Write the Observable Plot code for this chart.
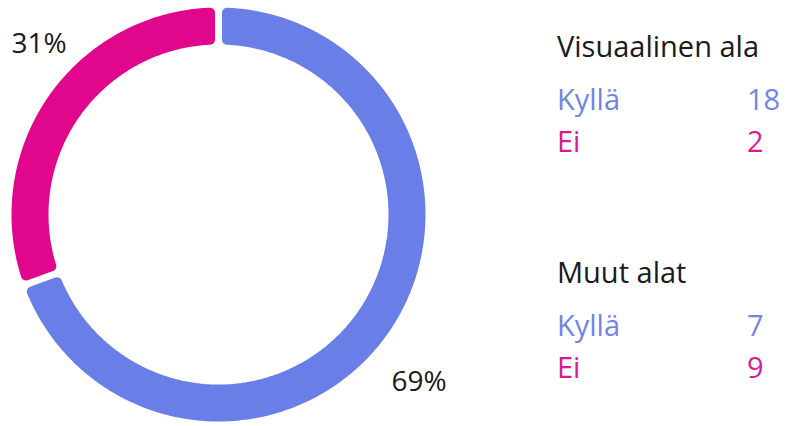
<!DOCTYPE html>
<html><head><meta charset="utf-8">
<script src="https://cdn.jsdelivr.net/npm/d3@7"></script>
<script src="https://cdn.jsdelivr.net/npm/@observablehq/plot@0.6"></script>
<style>
body{margin:0;background:#fff;font-family:"Open Sans",sans-serif;}
#wrap{position:relative;width:787px;height:426px;overflow:hidden}
#chart{position:absolute;left:0;top:0}
#legend{position:absolute;left:0;top:0;width:787px;height:426px}
.lg{position:absolute;font-size:29px;line-height:29px;white-space:nowrap;color:#1a1a1a}
</style></head><body>
<div id="wrap"><div id="chart"></div><div id="legend"></div></div>
<script>
// ---- data ----
const groups = ["Visuaalinen ala", "Muut alat"];
const answers = ["Kyllä", "Ei"];
const visualCounts = [18, 2];
const otherCounts = [7, 9];

// ---- style / layout ----
const colors = ["#6a7ee8", "#e0078c"];
const textColors = ["#7385e4", "#dc1a90"];
const W = 787, H = 426;
const R = 207;             // outer radius in px
const ringW = 37;          // ring thickness px
const round = 10;          // stroke width used to round corners
const gap = 7;             // visible gap px

const totals = answers.map((a, i) => visualCounts[i] + otherCounts[i]);
const sum = d3.sum(totals);
const slices = answers.map((a, i) => ({answer: a, total: totals[i]}));
const arcs = d3.pie().sort(null).value(d => d.total)(slices);

const rOut = (R - round / 2) / R;
const rIn = (R - ringW + round / 2) / R;
const half = (gap + round) / 2 / R;

const pts = [];
for (const a of arcs) {
  const n = 160;
  const o0 = a.startAngle + half / rOut, o1 = a.endAngle - half / rOut;
  const i0 = a.startAngle + half / rIn, i1 = a.endAngle - half / rIn;
  for (let k = 0; k <= n; k++) {
    const t = o0 + (o1 - o0) * k / n;
    pts.push({answer: a.data.answer, x: rOut * Math.sin(t), y: rOut * Math.cos(t)});
  }
  for (let k = n; k >= 0; k--) {
    const t = i0 + (i1 - i0) * k / n;
    pts.push({answer: a.data.answer, x: rIn * Math.sin(t), y: rIn * Math.cos(t)});
  }
}
const labels = arcs.map(a => {
  const m = (a.startAngle + a.endAngle) / 2;
  return {answer: a.data.answer, x: 1.2 * Math.sin(m), y: 1.2 * Math.cos(m),
          text: Math.round(a.data.total / sum * 100) + "%"};
});

const cx = 218, cy = 214;
const chart = Plot.plot({
  width: W, height: H,
  marginLeft: cx - R, marginRight: W - (cx + R),
  marginTop: cy - R, marginBottom: H - (cy + R),
  x: {domain: [-1, 1], axis: null},
  y: {domain: [-1, 1], axis: null},
  color: {domain: answers, range: colors},
  style: {fontFamily: "Open Sans", background: "transparent"},
  marks: [
    Plot.line(pts, {x: "x", y: "y", z: "answer", fill: "answer", stroke: "answer",
      strokeWidth: round, strokeLinejoin: "round", curve: "linear-closed"}),
    Plot.text(labels.filter(d => d.answer === answers[0]), {x: "x", y: "y", text: "text",
      fontSize: 28, fill: "#1a1a1a", dx: -3, dy: 25}),
    Plot.text(labels.filter(d => d.answer === answers[1]), {x: "x", y: "y", text: "text",
      fontSize: 28, fill: "#1a1a1a", dx: 24, dy: -28})
  ]
});
document.getElementById("chart").appendChild(chart);

// ---- legend ----
const lg = document.getElementById("legend");
const counts = [visualCounts, otherCounts];
function add(text, left, baseline, color) {
  const d = document.createElement("div");
  d.className = "lg";
  d.textContent = text;
  d.style.left = left + "px";
  d.style.top = (baseline - 26) + "px";
  if (color) d.style.color = color;
  lg.appendChild(d);
}
groups.forEach((g, gi) => {
  const base = 57 + gi * 226;
  add(g, 557, base);
  answers.forEach((a, ai) => {
    add(a, 557, base + 53 + ai * 42, textColors[ai]);
    add(String(counts[gi][ai]), 747, base + 53 + ai * 42, textColors[ai]);
  });
});
</script>
</body></html>
